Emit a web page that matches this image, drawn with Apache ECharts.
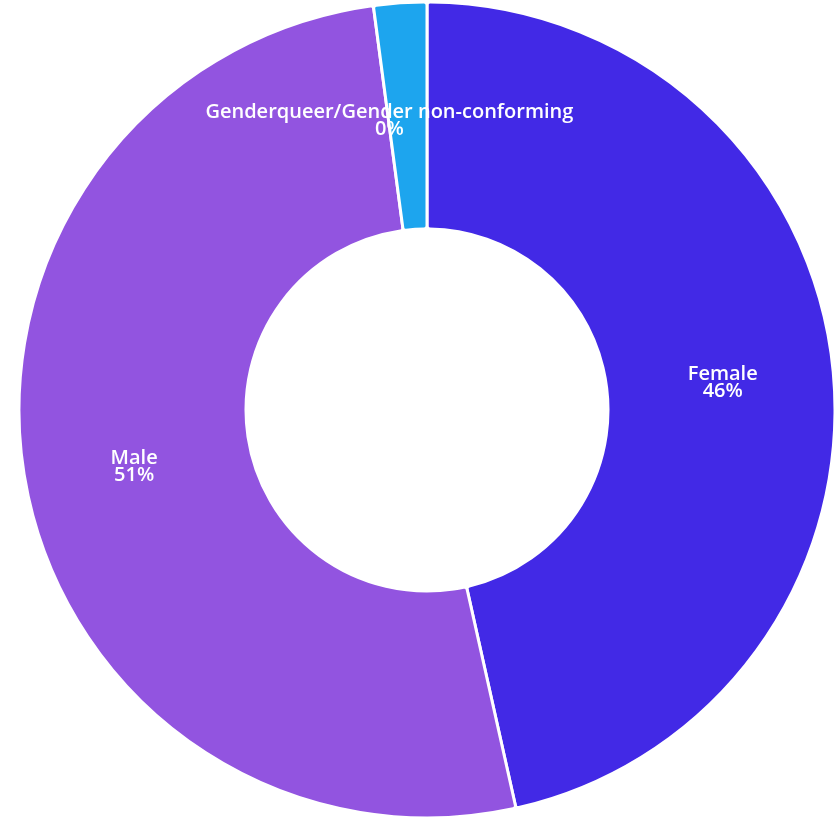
<!DOCTYPE html>
<html>
<head>
<meta charset="utf-8">
<script src="https://cdn.jsdelivr.net/npm/echarts@6/dist/echarts.min.js"></script>
<style>
html,body{margin:0;padding:0;background:#fff;}
#chart{width:834px;height:818px;}
</style>
</head>
<body>
<div id="chart"></div>
<script>
// Data
const categories = ['Female', 'Male', 'Genderqueer/Gender non-conforming'];
const sliceValues = [46.5, 51.4, 2.1];
const percentLabels = ['46%', '51%', '0%'];
const colors = ['#4229E6', '#9254E0', '#1DA5EE'];

const chart = echarts.init(document.getElementById('chart'));
const data = categories.map((c, i) => {
  const d = { name: c, value: sliceValues[i], itemStyle: { color: colors[i] } };
  if (i === 2) d.label = { offset: [-18, 8] };
  return d;
});
chart.setOption({
  animation: false,
  series: [{
    type: 'pie',
    center: [427, 410],
    radius: [181, 408],
    startAngle: 90,
    clockwise: true,
    avoidLabelOverlap: false,
    itemStyle: { borderColor: '#ffffff', borderWidth: 3, borderRadius: 3 },
    label: {
      show: true,
      position: 'inside',
      color: '#ffffff',
      fontFamily: 'Open Sans',
      fontWeight: 600,
      fontSize: 20,
      lineHeight: 17,
      align: 'center',
      offset: [0, 5],
      formatter: p => p.name + '\n' + percentLabels[p.dataIndex]
    },
    labelLine: { show: false },
    emphasis: { disabled: true },
    data: data
  }]
});
</script>
</body>
</html>
